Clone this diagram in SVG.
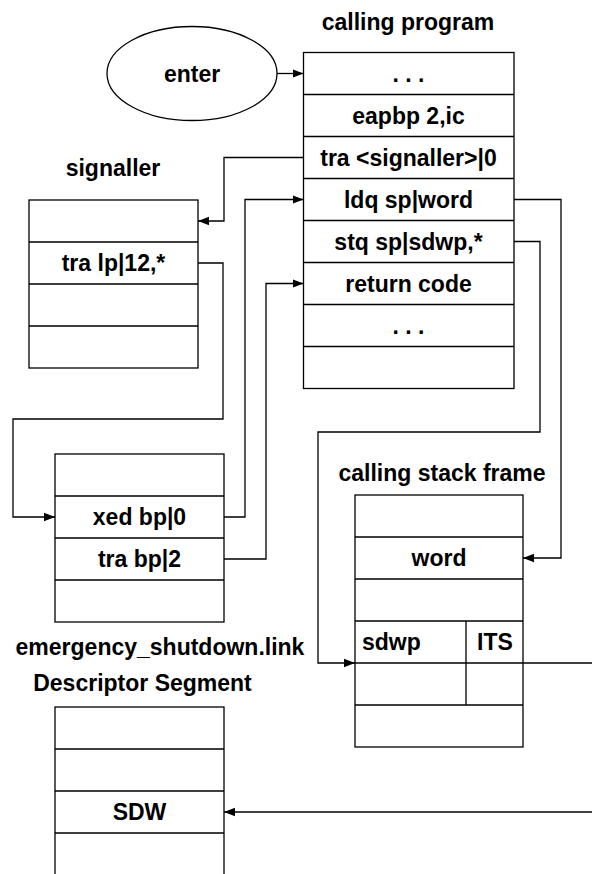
<svg xmlns="http://www.w3.org/2000/svg" width="592" height="874" viewBox="0 0 592 874">
<style>
.box{fill:#fff;stroke:#000;stroke-width:1.3}
.div{stroke:#000;stroke-width:1.3;fill:none}
.t{font-family:"Liberation Sans",Arial,sans-serif;font-weight:bold;font-size:23px;fill:#000;text-anchor:middle}
.l{text-anchor:start}
.c{fill:none;stroke:#000;stroke-width:1.3}
.a{marker-end:url(#ah)}
</style>
<defs>
<marker id="ah" markerUnits="userSpaceOnUse" markerWidth="12" markerHeight="10" refX="11" refY="5" orient="auto">
<path d="M0,0.8 L11,5 L0,9.2 Z" fill="#000"/>
</marker>
</defs>
<rect width="592" height="874" fill="#fff"/>
<g id="enter">
<ellipse class="box" cx="192" cy="73.5" rx="85" ry="47"/>
<text class="t" x="192" y="81.5">enter</text>
</g>
<g id="calling-program">
<text class="t" x="408" y="30">calling program</text>
<rect class="box" x="303.5" y="52.5" width="210.5" height="336"/>
<path class="div" d="M303.5,94.5H514M303.5,136.5H514M303.5,178.5H514M303.5,220.5H514M303.5,262.5H514M303.5,304.5H514M303.5,346.5H514"/>
<text class="t" x="408.5" y="81.5">. . .</text>
<text class="t" x="408.5" y="123.5">eapbp 2,ic</text>
<text class="t" x="408.5" y="165.5">tra &lt;signaller&gt;|0</text>
<text class="t" x="408.5" y="207.5">ldq sp|word</text>
<text class="t" x="408.5" y="249.5">stq sp|sdwp,*</text>
<text class="t" x="408.5" y="291.5">return code</text>
<text class="t" x="408.5" y="333.5">. . .</text>
</g>
<g id="signaller">
<text class="t" x="113" y="176">signaller</text>
<rect class="box" x="29" y="200" width="169" height="168"/>
<path class="div" d="M29,242H198M29,284H198M29,326H198"/>
<text class="t" x="113.5" y="271">tra lp|12,*</text>
</g>
<g id="emergency-link">
<rect class="box" x="55" y="454" width="169" height="168"/>
<path class="div" d="M55,496H224M55,538H224M55,580H224"/>
<text class="t" x="139.5" y="525">xed bp|0</text>
<text class="t" x="139.5" y="567">tra bp|2</text>
<text class="t" x="160" y="655">emergency_shutdown.link</text>
</g>
<g id="stack-frame">
<text class="t" x="442" y="481">calling stack frame</text>
<rect class="box" x="355" y="495" width="168" height="252"/>
<path class="div" d="M355,537H523M355,579H523M355,621H523M355,663H523M355,705H523M466,621V705"/>
<text class="t" x="439" y="566">word</text>
<text class="t l" x="362" y="650">sdwp</text>
<text class="t" x="495" y="650">ITS</text>
</g>
<g id="descriptor-segment">
<text class="t" x="142.5" y="691">Descriptor Segment</text>
<rect class="box" x="55" y="707" width="169" height="190"/>
<path class="div" d="M55,749H224M55,791H224M55,833H224"/>
<text class="t" x="139.5" y="820">SDW</text>
</g>
<g id="connectors">
<path class="c a" d="M277,73.5H303.5"/>
<path class="c a" d="M303.5,157.5H224V221H198"/>
<path class="c a" d="M198,263H223V419H13V517H55"/>
<path class="c a" d="M224,517H245V199.5H303.5"/>
<path class="c a" d="M224,559H266V283.5H303.5"/>
<path class="c a" d="M514,199.5H561V558H523"/>
<path class="c a" d="M514,241.5H540V432H318V663H355"/>
<path class="c" d="M523,663H592"/>
<path class="c a" d="M592,812H224"/>
</g>
</svg>
